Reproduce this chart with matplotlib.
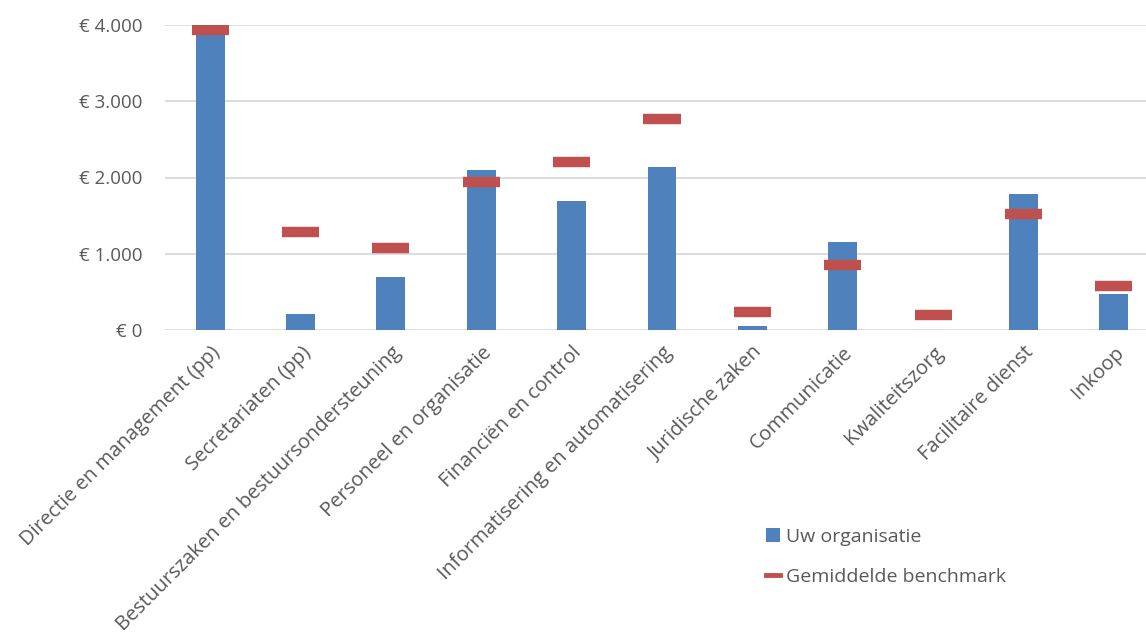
import numpy as np
import matplotlib.pyplot as plt
from matplotlib.lines import Line2D
from matplotlib.patches import Patch
from matplotlib.ticker import FuncFormatter

categories = [
    "Directie en management (pp)",
    "Secretariaten (pp)",
    "Bestuurszaken en bestuursondersteuning",
    "Personeel en organisatie",
    "Financiën en control",
    "Informatisering en automatisering",
    "Juridische zaken",
    "Communicatie",
    "Kwaliteitszorg",
    "Facilitaire dienst",
    "Inkoop",
]
organisatie = [3920, 205, 695, 2100, 1690, 2140, 55, 1150, 0, 1785, 472]
benchmark = [3935, 1280, 1075, 1945, 2200, 2765, 235, 850, 200, 1520, 580]

BLUE = "#4F81BD"
RED = "#C0504D"
TEXT = "#595959"
GRID = "#D9D9D9"

plt.rcParams["font.family"] = ["Open Sans", "DejaVu Sans"]

fig = plt.figure(figsize=(11.46, 6.33), dpi=100)
ax = fig.add_axes([165 / 1146, 303 / 633, 994 / 1146, 305 / 633])

x = np.arange(len(categories))
ax.bar(x, organisatie, width=0.32, color=BLUE, zorder=2)
ax.hlines(benchmark, x - 0.205, x + 0.205, colors=RED, linewidth=7.5, zorder=3)

ax.set_xlim(-0.5, len(categories) - 0.5)
ax.set_ylim(0, 4000)
ax.set_yticks([0, 1000, 2000, 3000, 4000])
ax.yaxis.set_major_formatter(FuncFormatter(lambda v, p: "€ " + f"{int(v):,}".replace(",", ".")))
ax.grid(axis="y", color=GRID, linewidth=1.3, zorder=0)
ax.set_axisbelow(True)
for s in ["top", "right", "left", "bottom"]:
    ax.spines[s].set_visible(False)
ax.tick_params(axis="both", length=0, colors=TEXT)
ax.tick_params(axis="y", pad=16, labelsize=13.5)
ax.set_xticks(x)
ax.set_xticklabels(categories, rotation=45, ha="right", rotation_mode="anchor", color=TEXT)
ax.tick_params(axis="x", pad=9, labelsize=14.5)

handles = [
    Patch(facecolor=BLUE, edgecolor="none"),
    Line2D([0], [0], color=RED, linewidth=3.5),
]
fig.legend(handles, ["Uw organisatie", "Gemiddelde benchmark"], loc="upper left",
           bbox_to_anchor=(748 / 1146, 1 - 510 / 633), frameon=False, fontsize=14,
           labelcolor=TEXT, handlelength=0.75, handleheight=0.75, handletextpad=0.3,
           labelspacing=1.15)

fig.savefig("out.png", dpi=100)
